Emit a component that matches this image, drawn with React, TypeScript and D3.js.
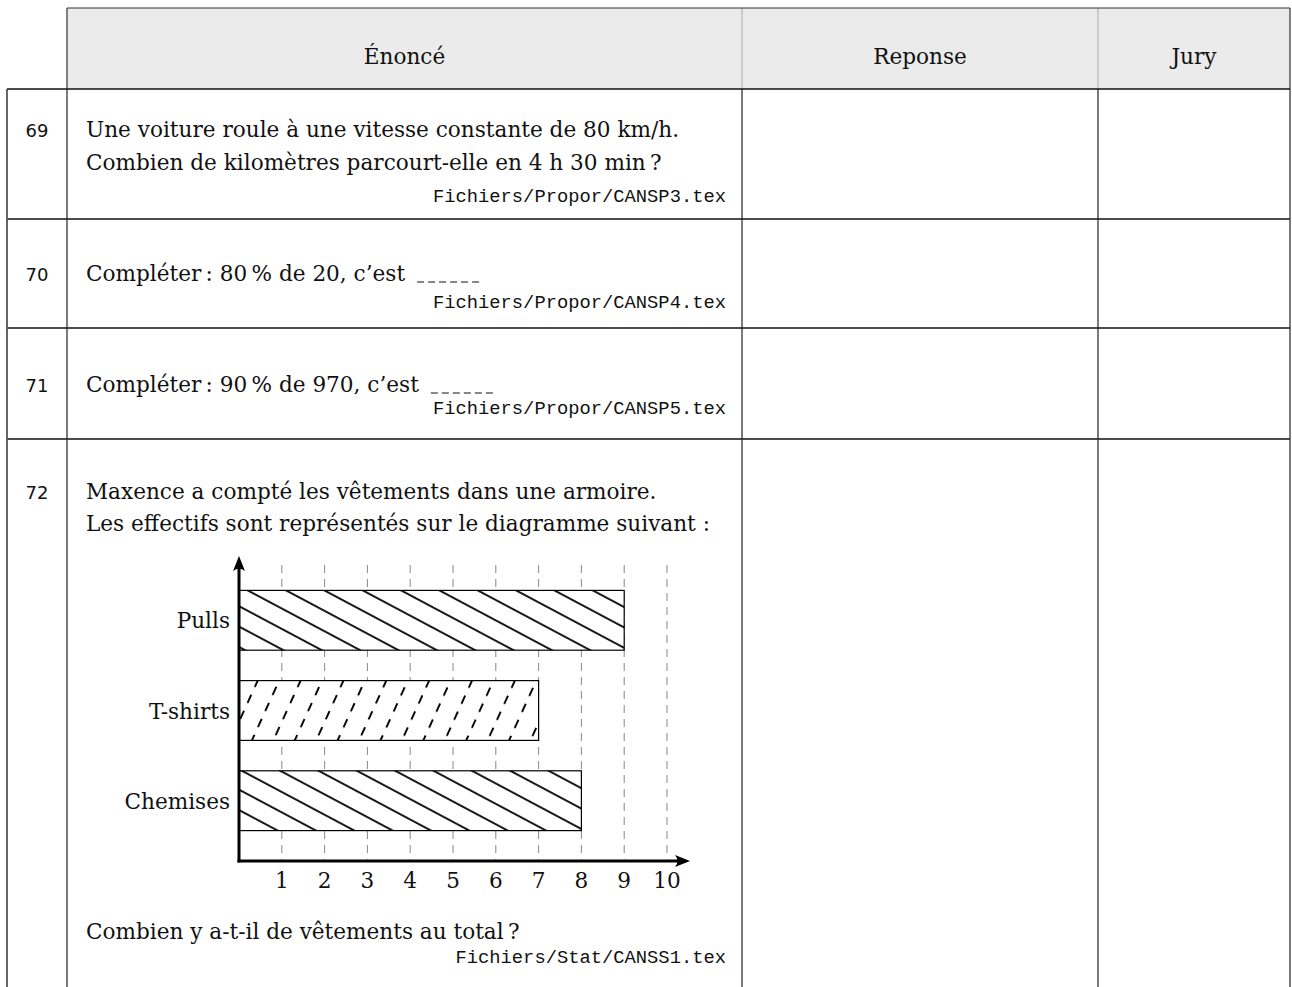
import React, { useEffect, useRef } from "react";
import * as d3 from "d3";

const headers = ["Énoncé", "Reponse", "Jury"];
const questionNumbers = ["69", "70", "71", "72"];
const q69Lines = [
  "Une voiture roule à une vitesse constante de 80 km/h.",
  "Combien de kilomètres parcourt-elle en 4 h 30 min\u2009?",
];
const q70Lines = ["Compléter\u2009: 80\u2009% de 20, c’est"];
const q71Lines = ["Compléter\u2009: 90\u2009% de 970, c’est"];
const q72Lines = [
  "Maxence a compté les vêtements dans une armoire.",
  "Les effectifs sont représentés sur le diagramme suivant :",
];
const q72After = ["Combien y a-t-il de vêtements au total\u2009?"];
const files = [
  "Fichiers/Propor/CANSP3.tex",
  "Fichiers/Propor/CANSP4.tex",
  "Fichiers/Propor/CANSP5.tex",
  "Fichiers/Stat/CANSS1.tex",
];
const categories = ["Pulls", "T-shirts", "Chemises"];
const counts = [9, 7, 8];
const hatchKinds = ["nw", "ne", "nw"];
const xTicks = [1, 2, 3, 4, 5, 6, 7, 8, 9, 10];

export default function App() {
  const ref = useRef<SVGSVGElement>(null);
  useEffect(() => {
    const svg = d3.select(ref.current);
    svg.selectAll("*").remove();
    const serif = "'DejaVu Serif', serif";
    const sans = "'DejaVu Sans', sans-serif";
    const mono = "'Liberation Mono', monospace";
    const fs = 21.6;
    const colX = [7, 67, 742, 1098, 1290];
    const headTop = 8;
    const headBot = 89;
    const rowY = [89, 219, 328, 439, 1000];

    // defs: hatch patterns
    const defs = svg.append("defs");
    const nw = defs
      .append("pattern")
      .attr("id", "hatch-nw")
      .attr("patternUnits", "userSpaceOnUse")
      .attr("width", 18)
      .attr("height", 18)
      .attr("patternTransform", "rotate(-62)");
    nw.append("line")
      .attr("x1", 9).attr("y1", -2).attr("x2", 9).attr("y2", 20)
      .attr("stroke", "#000").attr("stroke-width", 1.8);
    const ne = defs
      .append("pattern")
      .attr("id", "hatch-ne")
      .attr("patternUnits", "userSpaceOnUse")
      .attr("width", 19.5)
      .attr("height", 17.6)
      .attr("patternTransform", "rotate(24.5)");
    ne.append("line")
      .attr("x1", 9.75).attr("y1", 0).attr("x2", 9.75).attr("y2", 9)
      .attr("stroke", "#000").attr("stroke-width", 1.9);

    // header
    svg.append("rect")
      .attr("x", colX[1]).attr("y", headTop)
      .attr("width", colX[4] - colX[1]).attr("height", headBot - headTop)
      .attr("fill", "#ebebeb");
    [colX[2], colX[3]].forEach((x) => {
      svg.append("line")
        .attr("x1", x).attr("x2", x).attr("y1", headTop).attr("y2", headBot)
        .attr("stroke", "#aaa").attr("stroke-width", 1);
    });
    svg.append("line")
      .attr("x1", colX[1]).attr("x2", colX[4]).attr("y1", headTop).attr("y2", headTop)
      .attr("stroke", "#333").attr("stroke-width", 1.2);
    [colX[1], colX[4]].forEach((x) => {
      svg.append("line")
        .attr("x1", x).attr("x2", x).attr("y1", headTop).attr("y2", headBot)
        .attr("stroke", "#333").attr("stroke-width", 1.2);
    });
    const headCenters = [
      (colX[1] + colX[2]) / 2,
      (colX[2] + colX[3]) / 2,
      (colX[3] + colX[4]) / 2,
    ];
    headers.forEach((h, i) => {
      svg.append("text")
        .attr("x", headCenters[i]).attr("y", 64)
        .attr("text-anchor", "middle")
        .attr("font-family", serif).attr("font-size", fs)
        .attr("fill", "#111")
        .text(h);
    });

    // body grid
    rowY.slice(0, 4).forEach((y) => {
      svg.append("line")
        .attr("x1", colX[0]).attr("x2", colX[4]).attr("y1", y).attr("y2", y)
        .attr("stroke", "#111").attr("stroke-width", 1.3);
    });
    colX.forEach((x, i) => {
      svg.append("line")
        .attr("x1", x).attr("x2", x).attr("y1", rowY[0]).attr("y2", rowY[4])
        .attr("stroke", i === 0 ? "#555" : "#222")
        .attr("stroke-width", i === 0 ? 1.8 : 1.2);
    });

    const numX = (colX[0] + colX[1]) / 2;
    const textX = 86;
    const fileX = 726;

    const addLines = (lines: string[], baselines: number[]) =>
      lines.map((t, i) =>
        svg.append("text")
          .attr("x", textX).attr("y", baselines[i])
          .attr("font-family", serif).attr("font-size", fs)
          .attr("fill", "#111")
          .text(t)
      );
    const addNum = (n: string, y: number) =>
      svg.append("text")
        .attr("x", numX).attr("y", y)
        .attr("text-anchor", "middle")
        .attr("font-family", sans).attr("font-size", 18)
        .attr("fill", "#111")
        .text(n);
    const addFile = (f: string, y: number) =>
      svg.append("text")
        .attr("x", fileX).attr("y", y)
        .attr("text-anchor", "end")
        .attr("font-family", mono).attr("font-size", 18.8)
        .attr("fill", "#111")
        .text(f);
    const addBlank = (node: any, y: number) => {
      const len = (node.node() as SVGTextElement).getComputedTextLength();
      const x0 = textX + len + 12;
      svg.append("line")
        .attr("x1", x0).attr("x2", x0 + 64).attr("y1", y).attr("y2", y)
        .attr("stroke", "#111").attr("stroke-width", 1)
        .attr("stroke-dasharray", "7 4");
    };

    // row 69
    addNum(questionNumbers[0], 137);
    addLines(q69Lines, [137, 170]);
    addFile(files[0], 202);
    // row 70
    addNum(questionNumbers[1], 281);
    const t70 = addLines(q70Lines, [281]);
    addBlank(t70[0], 282);
    addFile(files[1], 308);
    // row 71
    addNum(questionNumbers[2], 392);
    const t71 = addLines(q71Lines, [392]);
    addBlank(t71[0], 393);
    addFile(files[2], 414);
    // row 72
    addNum(questionNumbers[3], 499);
    addLines(q72Lines, [499, 531]);
    addLines(q72After, [939]);
    addFile(files[3], 963);

    // chart
    const x = d3.scaleLinear().domain([0, 10]).range([239, 667]);
    const y = d3.scaleBand<string>().domain(categories).range([560, 861]).padding(0.337);
    const axisY = 861;
    const g = svg.append("g");

    g.selectAll("line.grid")
      .data(xTicks)
      .join("line")
      .attr("class", "grid")
      .attr("x1", (d) => x(d)).attr("x2", (d) => x(d))
      .attr("y1", 565).attr("y2", axisY)
      .attr("stroke", "#888").attr("stroke-width", 1)
      .attr("stroke-dasharray", "8 6");

    const data = categories.map((c, i) => ({ c, v: counts[i], h: hatchKinds[i] }));
    g.selectAll("rect.bg")
      .data(data)
      .join("rect")
      .attr("class", "bg")
      .attr("x", x(0)).attr("y", (d) => y(d.c)!)
      .attr("width", (d) => x(d.v) - x(0)).attr("height", y.bandwidth())
      .attr("fill", "#fff");
    g.selectAll("rect.bar")
      .data(data)
      .join("rect")
      .attr("class", "bar")
      .attr("x", x(0)).attr("y", (d) => y(d.c)!)
      .attr("width", (d) => x(d.v) - x(0)).attr("height", y.bandwidth())
      .attr("fill", (d) => `url(#hatch-${d.h})`)
      .attr("stroke", "#000").attr("stroke-width", 1.2);

    g.selectAll("text.cat")
      .data(categories)
      .join("text")
      .attr("class", "cat")
      .attr("x", 230)
      .attr("y", (d) => y(d)! + y.bandwidth() / 2 + 8)
      .attr("text-anchor", "end")
      .attr("font-family", serif).attr("font-size", fs)
      .attr("fill", "#111")
      .text((d) => d);

    g.selectAll("text.tick")
      .data(xTicks)
      .join("text")
      .attr("class", "tick")
      .attr("x", (d) => x(d))
      .attr("y", 888)
      .attr("text-anchor", "middle")
      .attr("font-family", serif).attr("font-size", fs)
      .attr("fill", "#111")
      .text((d) => String(d));

    // axes with arrows
    g.append("line")
      .attr("x1", x(0)).attr("x2", x(0)).attr("y1", axisY + 1.5).attr("y2", 566)
      .attr("stroke", "#000").attr("stroke-width", 3);
    g.append("line")
      .attr("x1", x(0) - 1.5).attr("x2", 678).attr("y1", axisY).attr("y2", axisY)
      .attr("stroke", "#000").attr("stroke-width", 3);
    g.append("path")
      .attr("d", `M${x(0)},556 L${x(0) + 6},571 Q${x(0)},566 ${x(0) - 6},571 Z`)
      .attr("fill", "#000");
    g.append("path")
      .attr("d", `M690,${axisY} L675,${axisY - 6} Q680,${axisY} 675,${axisY + 6} Z`)
      .attr("fill", "#000");
  }, []);
  return (
    <svg
      ref={ref}
      width={1292}
      height={987}
      style={{ position: "absolute", left: 0, top: 0, background: "#fff" }}
    />
  );
}
